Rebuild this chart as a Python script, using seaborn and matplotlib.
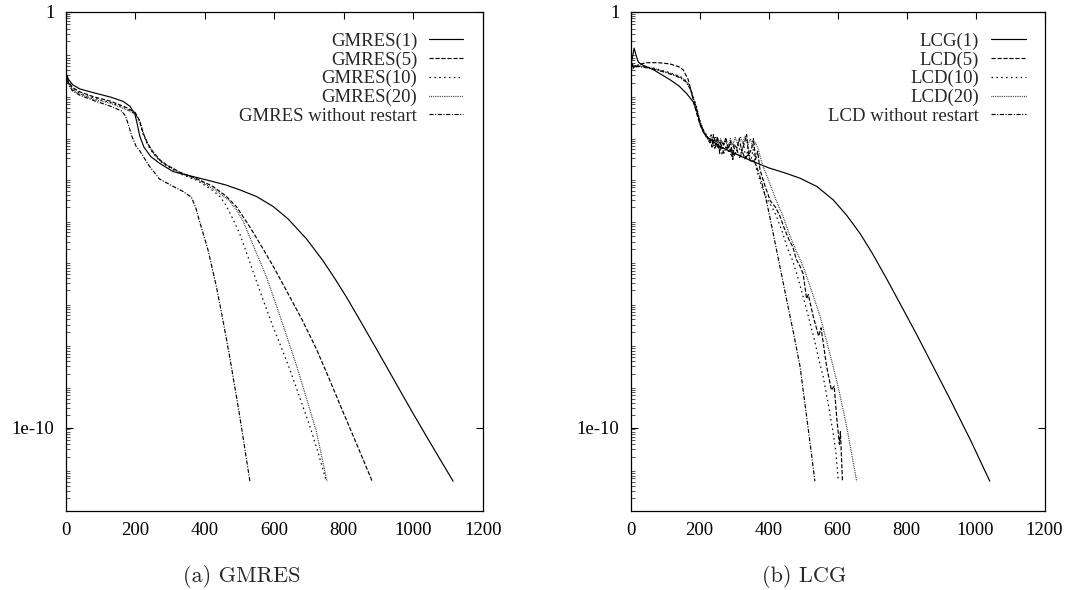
import numpy as np
import pandas as pd
import seaborn as sns
from matplotlib import pyplot as plt
from matplotlib.ticker import FixedLocator, NullFormatter

# values: iteration and log10 of the residual
gm1_it = [0, 8, 20, 40, 79, 130, 165, 185, 199, 206, 213, 225, 245, 270, 309, 366, 405, 460, 501,
          549, 597, 640, 693, 740, 775, 808, 856, 904, 950, 999, 1060, 1115]
gm1_lg = [-1.45, -1.62, -1.75, -1.85, -1.94, -2.05, -2.15, -2.27, -2.45, -2.7, -2.98, -3.25, -3.48,
          -3.64, -3.84, -3.96, -4.04, -4.16, -4.28, -4.44, -4.68, -4.98, -5.46, -5.98, -6.42,
          -6.86, -7.55, -8.25, -8.93, -9.65, -10.52, -11.29]

gm5_it = [0, 8, 20, 40, 80, 130, 175, 200, 212, 222, 235, 250, 270, 290, 330, 380, 424, 460, 491,
          529, 568, 600, 635, 680, 721, 760, 798, 840, 882]
gm5_lg = [-1.45, -1.68, -1.82, -1.92, -2.04, -2.15, -2.3, -2.42, -2.6, -2.9, -3.15, -3.35, -3.55,
          -3.68, -3.86, -4.02, -4.2, -4.42, -4.68, -5.16, -5.7, -6.16, -6.7, -7.4, -8.1, -8.86,
          -9.62, -10.45, -11.29]

gm10_it = [0, 8, 20, 40, 80, 130, 175, 200, 212, 222, 235, 250, 270, 290, 330, 380, 424, 445, 462,
           480, 501, 525, 549, 573, 597, 620, 645, 672, 702, 727, 750]
gm10_lg = [-1.45, -1.7, -1.85, -1.95, -2.07, -2.18, -2.33, -2.45, -2.62, -2.92, -3.18, -3.38, -3.58,
           -3.7, -3.9, -4.06, -4.3, -4.45, -4.66, -4.96, -5.34, -5.9, -6.48, -7.04, -7.58, -8.06,
           -8.6, -9.24, -9.95, -10.62, -11.29]

gm20_it = [0, 8, 20, 40, 80, 130, 175, 200, 214, 225, 238, 252, 272, 290, 330, 380, 430, 472, 491,
           510, 539, 578, 616, 640, 664, 693, 721, 752]
gm20_lg = [-1.45, -1.72, -1.87, -1.97, -2.1, -2.2, -2.35, -2.46, -2.65, -2.95, -3.2, -3.4, -3.58,
           -3.68, -3.88, -4.04, -4.28, -4.55, -4.76, -5.02, -5.6, -6.38, -7.3, -7.9, -8.5, -9.3,
           -10.08, -11.29]

gmf_it = [0, 8, 20, 40, 80, 130, 160, 172, 180, 190, 203, 213, 240, 270, 310, 338, 362, 374, 386,
          398, 410, 434, 453, 472, 501, 530]
gmf_lg = [-1.45, -1.75, -1.9, -2.0, -2.13, -2.27, -2.38, -2.5, -2.7, -2.98, -3.24, -3.34, -3.7,
          -4.02, -4.2, -4.32, -4.46, -4.7, -5.06, -5.4, -5.74, -6.62, -7.44, -8.3, -9.73, -11.29]

lcg1_it = [0, 5, 10, 16, 22, 30, 66, 114, 140, 162, 181, 191, 201, 210, 220, 259, 300, 355, 400,
           450, 491, 540, 587, 625, 665, 700, 742, 785, 829, 880, 926, 985, 1041]
lcg1_lg = [-1.31, -1.1, -0.87, -1.05, -1.2, -1.26, -1.39, -1.63, -1.78, -1.96, -2.16, -2.36, -2.68,
           -2.88, -3.0, -3.24, -3.4, -3.6, -3.75, -3.88, -4.0, -4.2, -4.52, -4.88, -5.33, -5.8,
           -6.42, -7.08, -7.76, -8.58, -9.32, -10.3, -11.29]

lcd5_it = [0, 3, 5, 8, 12, 16, 22, 30, 46, 80, 114, 140, 152, 167, 177, 186, 195, 203, 212, 220,
           230, 236, 240, 247, 252, 258, 262, 270, 276, 283, 290, 296, 300, 308, 315, 322, 330, 336,
           342, 350, 356, 362, 368, 375, 390, 405, 420, 433, 445, 460, 470, 480, 491, 500, 510, 515,
           529, 545, 552, 568, 582, 590, 597, 605, 608, 614]
lcd5_lg = [-1.3, -1.38, -1.25, -1.35, -1.28, -1.32, -1.27, -1.25, -1.22, -1.22, -1.25, -1.32, -1.39,
           -1.63, -1.96, -2.28, -2.55, -2.75, -2.9, -3.0, -3.05, -3.25, -2.95, -3.2, -3.0, -3.4,
           -3.1, -3.2, -3.02, -3.3, -3.12, -3.55, -3.18, -3.28, -3.05, -3.35, -3.15, -2.95, -3.45,
           -3.3, -3.05, -3.55, -3.35, -3.8, -4.2, -4.55, -4.7, -4.92, -5.2, -5.5, -5.65, -5.95, -6.12,
           -6.3, -6.9, -6.8, -7.32, -7.8, -7.6, -8.53, -9.1, -9.0, -9.73, -10.4, -10.1, -11.29]

lcd10_it = [0, 4, 7, 10, 15, 20, 30, 66, 110, 143, 160, 172, 182, 191, 200, 210, 222, 228, 234,
            240, 246, 252, 259, 265, 270, 278, 285, 292, 298, 305, 312, 320, 327, 334, 341, 348,
            355, 365, 380, 395, 410, 423, 440, 455, 468, 481, 495, 508, 520, 533, 545, 558, 572,
            587, 595, 602]
lcd10_lg = [-1.3, -1.22, -1.36, -1.27, -1.33, -1.3, -1.31, -1.35, -1.45, -1.55, -1.65, -1.8, -2.05,
            -2.28, -2.6, -2.82, -3.0, -3.12, -2.96, -3.25, -3.05, -3.3, -3.1, -3.45, -3.15, -3.32,
            -3.18, -3.5, -3.2, -3.42, -3.2, -3.4, -3.15, -3.55, -3.25, -3.6, -3.3, -3.8, -4.2,
            -4.5, -4.7, -4.92, -5.3, -5.7, -5.95, -6.28, -6.7, -7.1, -7.48, -7.9, -8.35, -8.77,
            -9.4, -10.13, -10.6, -11.29]

lcd20_it = [0, 3, 6, 9, 13, 18, 25, 66, 110, 143, 160, 172, 182, 191, 200, 210, 220, 227, 233, 240,
            247, 254, 261, 268, 275, 282, 289, 296, 303, 310, 318, 325, 332, 340, 347, 354, 362,
            370, 376, 384, 400, 420, 442, 460, 480, 500, 525, 549, 568, 587, 605, 626, 640, 655]
lcd20_lg = [-1.3, -1.35, -1.24, -1.34, -1.28, -1.32, -1.3, -1.36, -1.46, -1.56, -1.66, -1.82, -2.07,
            -2.3, -2.62, -2.84, -2.95, -3.08, -2.95, -3.12, -3.0, -3.18, -3.05, -3.2, -3.1, -3.25,
            -3.05, -3.2, -3.02, -3.18, -3.0, -3.15, -2.98, -3.2, -3.05, -3.25, -3.15, -3.3, -3.5,
            -3.72, -4.05, -4.5, -4.92, -5.35, -5.75, -6.12, -6.72, -7.32, -7.92, -8.53, -9.15,
            -9.97, -10.6, -11.29]

lcdf_it = [0, 4, 8, 12, 18, 30, 66, 110, 143, 160, 172, 182, 191, 200, 210, 222, 230, 237, 244,
           250, 257, 263, 270, 277, 285, 292, 300, 308, 316, 324, 332, 340, 348, 356, 365, 380, 395,
           413, 432, 452, 472, 491, 510, 522, 534]
lcdf_lg = [-1.3, -1.26, -1.33, -1.29, -1.31, -1.32, -1.37, -1.48, -1.58, -1.68, -1.84, -2.1, -2.33,
           -2.62, -2.85, -3.05, -3.15, -3.05, -3.28, -3.15, -3.32, -3.2, -3.4, -3.25, -3.38, -3.28,
           -3.45, -3.32, -3.5, -3.36, -3.55, -3.42, -3.6, -3.55, -3.72, -4.1, -4.6, -5.32, -6.1,
           -6.92, -7.72, -8.53, -9.73, -10.5, -11.29]

gmres_names = ["GMRES(1)", "GMRES(5)", "GMRES(10)", "GMRES(20)", "GMRES without restart"]
lcg_names = ["LCG(1)", "LCD(5)", "LCD(10)", "LCD(20)", "LCD without restart"]
gmres_runs = [(gm1_it, gm1_lg), (gm5_it, gm5_lg), (gm10_it, gm10_lg), (gm20_it, gm20_lg), (gmf_it, gmf_lg)]
lcg_runs = [(lcg1_it, lcg1_lg), (lcd5_it, lcd5_lg), (lcd10_it, lcd10_lg), (lcd20_it, lcd20_lg), (lcdf_it, lcdf_lg)]
patterns = ["", (3.0, 1.3), (1.1, 2.4), (0.5, 0.8), (3.0, 1.1, 0.8, 1.1)]


def frame(names, runs):
    parts = []
    for name, (it, lg) in zip(names, runs):
        parts.append(pd.DataFrame({"iteration": it, "residual": 10.0 ** np.array(lg), "solver": name}))
    return pd.concat(parts, ignore_index=True)


sns.set_theme(style="white")
plt.rcParams["font.family"] = ["Liberation Serif", "DejaVu Serif"]
plt.rcParams["lines.scale_dashes"] = False
plt.rcParams["ytick.minor.visible"] = True
plt.rcParams["ytick.left"] = True

fig = plt.figure(figsize=(10.7, 5.9), dpi=100)
ax1 = fig.add_axes([0.0614, 0.1344, 0.3897, 0.8453])
ax2 = fig.add_axes([0.5894, 0.1344, 0.3869, 0.8453])

# gnuplot-style minor tics on the log axis
minor_pos = [m * 10.0 ** k for k in range(-12, 0) for m in range(2, 10)]

fs = 13.5
for ax, names, runs, cap, cx in [(ax1, gmres_names, gmres_runs, "(a) GMRES", 0.2257),
                                 (ax2, lcg_names, lcg_runs, "(b) LCG", 0.7514)]:
    df = frame(names, runs)
    sns.lineplot(data=df, x="iteration", y="residual", style="solver", style_order=names,
                 dashes=dict(zip(names, patterns)), color="black", linewidth=0.85,
                 estimator=None, sort=False, ax=ax)
    ax.set_yscale("log")
    ax.set_xlim(0, 1200)
    ax.set_ylim(1e-12, 1)
    ax.set_xticks(range(0, 1201, 200))
    ax.yaxis.set_major_locator(FixedLocator([1e-10, 1]))
    ax.set_yticklabels(["1e-10", "1"])
    ax.yaxis.set_minor_locator(FixedLocator(minor_pos))
    ax.yaxis.set_minor_formatter(NullFormatter())
    ax.tick_params(axis="both", which="major", direction="in", length=4.8, width=0.8,
                   top=True, right=True, labelsize=fs, pad=8, colors="black")
    ax.tick_params(axis="y", which="minor", direction="in", length=2.6, width=0.7,
                   left=True, right=False, color="#555555")
    ax.set_xlabel("")
    ax.set_ylabel("")
    for sp in ax.spines.values():
        sp.set_color("black")
        sp.set_linewidth(0.9)
    handles, labels = ax.get_legend_handles_labels()
    ax.legend(handles=handles, labels=labels, loc="upper right", bbox_to_anchor=(0.954, 0.959),
              frameon=False, markerfirst=False, fontsize=fs, handlelength=1.85,
              handletextpad=0.62, labelspacing=0.08, borderpad=0, borderaxespad=0)
    fig.text(cx, 0.0237, cap, ha="center", va="center", fontsize=16, family="cmr10")

plt.savefig("out.png", dpi=100)
